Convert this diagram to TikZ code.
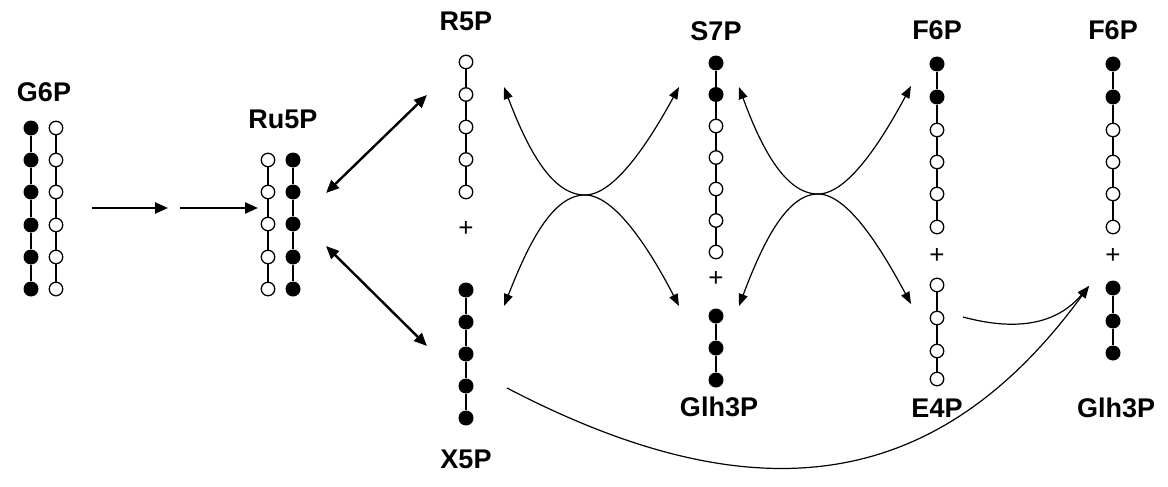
\documentclass[tikz,border=0pt]{standalone}
\usepackage{fontspec}
\setmainfont{Liberation Sans}
\usetikzlibrary{arrows.meta}
\begin{document}
\begin{tikzpicture}[x=1pt,y=-1pt,
  fdot/.style={circle,fill=black,inner sep=0pt,minimum size=15pt},
  odot/.style={circle,draw=black,fill=white,line width=1.3pt,inner sep=0pt,minimum size=13.5pt},
  chainln/.style={line width=1.4pt},
  lbl/.style={font=\fontsize{27}{30}\selectfont\bfseries,inner sep=0pt},
  plusn/.style={font=\fontsize{26}{28}\selectfont,inner sep=0pt},
  bigarr/.style={line width=2.4pt,-{Triangle[length=13pt,width=11pt]}},
  bigdbl/.style={line width=2.4pt,{Triangle[length=13pt,width=11pt]}-{Triangle[length=13pt,width=11pt]}},
  thindbl/.style={line width=1.2pt,{Triangle[length=12pt,width=9pt]}-{Triangle[length=12pt,width=9pt]}},
  thinarr/.style={line width=1.2pt,-{Triangle[length=12pt,width=9pt]}},
  thinln/.style={line width=1.2pt},
]
\useasboundingbox (0,0) rectangle (1168,487);

% ---- G6P
\node[lbl] (g6p) at (44,92) {G6P};
\foreach \i/\y in {1/128,2/160,3/192,4/225,5/257,6/289}{
  \node[fdot] (ga\i) at (31,\y) {};
  \node[odot] (gb\i) at (56,\y) {};
}
\draw[chainln] (ga1) -- (ga2) -- (ga3) -- (ga4) -- (ga5) -- (ga6);
\draw[chainln] (gb1) -- (gb2) -- (gb3) -- (gb4) -- (gb5) -- (gb6);

% ---- Ru5P
\node[lbl] (ru5p) at (283,119) {Ru5P};
\foreach \i/\y in {1/160,2/192,3/224,4/257,5/289}{
  \node[odot] (ra\i) at (268,\y) {};
  \node[fdot] (rb\i) at (293,\y) {};
}
\draw[chainln] (ra1) -- (ra2) -- (ra3) -- (ra4) -- (ra5);
\draw[chainln] (rb1) -- (rb2) -- (rb3) -- (rb4) -- (rb5);

% ---- R5P + X5P
\node[lbl] (r5p) at (466,21) {R5P};
\foreach \i/\y in {1/62,2/94.5,3/127,4/159.5,5/192}{
  \node[odot] (r\i) at (466,\y) {};
}
\draw[chainln] (r1) -- (r2) -- (r3) -- (r4) -- (r5);
\node[plusn] (p1) at (466,229) {+};
\foreach \i/\y in {1/290,2/322,3/354,4/386,5/418}{
  \node[fdot] (x\i) at (466,\y) {};
}
\draw[chainln] (x1) -- (x2) -- (x3) -- (x4) -- (x5);
\node[lbl] (x5p) at (466,459) {X5P};

% ---- S7P + Glh3P
\node[lbl] (s7p) at (716,31) {S7P};
\foreach \i/\y in {1/63,2/94.5}{ \node[fdot] (s\i) at (716,\y) {}; }
\foreach \i/\y in {3/126,4/157.5,5/189,6/220.5,7/252}{ \node[odot] (s\i) at (716,\y) {}; }
\draw[chainln] (s1) -- (s2) -- (s3) -- (s4) -- (s5) -- (s6) -- (s7);
\node[plusn] (p2) at (716,279) {+};
\foreach \i/\y in {1/316,2/348,3/380}{ \node[fdot] (t\i) at (716,\y) {}; }
\draw[chainln] (t1) -- (t2) -- (t3);
\node[lbl] (glha) at (719,407) {Glh3P};

% ---- F6P + E4P
\node[lbl] (f6pa) at (937,30) {F6P};
\foreach \i/\y in {1/64,2/97}{ \node[fdot] (f\i) at (937,\y) {}; }
\foreach \i/\y in {3/130,4/162,5/194,6/227}{ \node[odot] (f\i) at (937,\y) {}; }
\draw[chainln] (f1) -- (f2) -- (f3) -- (f4) -- (f5) -- (f6);
\node[plusn] (p3) at (937,256) {+};
\foreach \i/\y in {1/285,2/318,3/351,4/379}{ \node[odot] (e\i) at (937,\y) {}; }
\draw[chainln] (e1) -- (e2) -- (e3) -- (e4);
\node[lbl] (e4p) at (937,408) {E4P};

% ---- F6P + Glh3P (right)
\node[lbl] (f6pb) at (1113,30) {F6P};
\foreach \i/\y in {1/64,2/97}{ \node[fdot] (h\i) at (1113,\y) {}; }
\foreach \i/\y in {3/130,4/162,5/194,6/227}{ \node[odot] (h\i) at (1113,\y) {}; }
\draw[chainln] (h1) -- (h2) -- (h3) -- (h4) -- (h5) -- (h6);
\node[plusn] (p4) at (1113,256) {+};
\foreach \i/\y in {1/288,2/321,3/353}{ \node[fdot] (k\i) at (1113,\y) {}; }
\draw[chainln] (k1) -- (k2) -- (k3);
\node[lbl] (glhb) at (1116,408) {Glh3P};

% ---- arrows G6P -> Ru5P
\coordinate (a1s) at (92,208);
\coordinate (a1e) at (168,208);
\coordinate (a2s) at (180,208);
\coordinate (a2e) at (258,208);
\draw[bigarr] (a1s) -- (a1e);
\draw[bigarr] (a2s) -- (a2e);

% ---- Ru5P <-> R5P, X5P
\coordinate (d1a) at (326,193);
\coordinate (d1b) at (427,95);
\coordinate (d2a) at (326,246);
\coordinate (d2b) at (427,346);
\draw[bigdbl] (d1a) -- (d1b);
\draw[bigdbl] (d2a) -- (d2b);

% ---- first crossing (transketolase)
\coordinate (c1tl) at (504,87);
\coordinate (c1tr) at (679,87);
\coordinate (c1bl) at (504,306);
\coordinate (c1br) at (679,306);
\coordinate (c1m) at (585,195);
\draw[thindbl] (c1tl) .. controls (528,150) and (552,195) .. (c1m)
               .. controls (615,195) and (650,140) .. (c1tr);
\draw[thindbl] (c1bl) .. controls (528,245) and (552,195) .. (c1m)
               .. controls (615,195) and (650,250) .. (c1br);

% ---- second crossing (transaldolase)
\coordinate (c2tl) at (739,87);
\coordinate (c2tr) at (911,86);
\coordinate (c2bl) at (739,306);
\coordinate (c2br) at (911,304);
\coordinate (c2m) at (818,194);
\draw[thindbl] (c2tl) .. controls (762,150) and (786,194) .. (c2m)
               .. controls (848,194) and (882,140) .. (c2tr);
\draw[thindbl] (c2bl) .. controls (762,245) and (786,194) .. (c2m)
               .. controls (848,194) and (882,250) .. (c2br);

% ---- to right Glh3P
\coordinate (tip) at (1089,286);
\coordinate (e4s) at (963,317);
\coordinate (x5s) at (507,388);
\draw[thinarr] (e4s) .. controls (1000,327) and (1050,332) .. (tip);
\draw[thinarr] (x5s) .. controls (760,520) and (940,490) .. (tip);
\end{tikzpicture}
\end{document}
